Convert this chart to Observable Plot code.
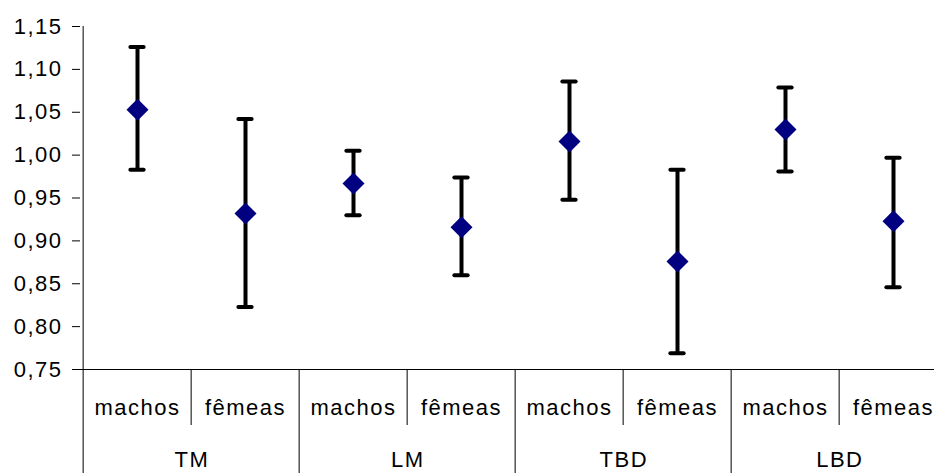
<!DOCTYPE html>
<html>
<head>
<meta charset="utf-8">
<script src="https://cdn.jsdelivr.net/npm/d3@7"></script>
<script src="https://cdn.jsdelivr.net/npm/@observablehq/plot@0.6"></script>
<style>
  html, body { margin: 0; padding: 0; background: #fff; overflow: hidden; }
  #chart { width: 934px; height: 473px; overflow: hidden; }
</style>
</head>
<body>
<div id="chart"></div>
<script>
// Measurements by group (TM, LM, TBD, LBD) and sex (machos, fêmeas)
const groups = ["TM", "LM", "TBD", "LBD"];
const sexes = ["machos", "fêmeas"];
const means = [1.053, 0.932, 0.967, 0.916, 1.016, 0.876, 1.030, 0.923];
const upper = [1.126, 1.042, 1.005, 0.974, 1.086, 0.983, 1.079, 0.997];
const lower = [0.983, 0.823, 0.930, 0.860, 0.948, 0.769, 0.981, 0.846];
const yTicks = [0.75, 0.80, 0.85, 0.90, 0.95, 1.00, 1.05, 1.10, 1.15];

// One row per group × sex
const rows = [];
groups.forEach((g, gi) => sexes.forEach((s, si) => {
  const i = gi * sexes.length + si;
  rows.push({key: g + "|" + s, group: g, sex: s, mean: means[i], hi: upper[i], lo: lower[i]});
}));
const keys = rows.map(d => d.key);

// Layout
const W = 934, H = 473;
const mTop = 26, mBottom = 104, mLeft = 80;
const xEnd = 949.6; // last group runs slightly past the right edge
const bw = (xEnd - mLeft) / keys.length;
const frameH = H - mTop - mBottom;

const chart = Plot.plot({
  width: W,
  height: H,
  marginTop: mTop,
  marginBottom: mBottom,
  marginLeft: mLeft,
  marginRight: 0,
  style: {
    fontFamily: "'Liberation Sans', Arial, sans-serif",
    fontSize: "22px",
    letterSpacing: "1.5px",
    color: "#000",
    background: "#fff"
  },
  x: {type: "band", domain: keys, range: [mLeft, xEnd], padding: 0, axis: null},
  y: {
    domain: [yTicks[0], yTicks[yTicks.length - 1]],
    ticks: yTicks,
    tickSize: 8,
    tickPadding: 10,
    tickFormat: d => d.toFixed(2).replace(".", ","),
    label: null
  },
  marks: [
    // horizontal category axis line
    Plot.ruleY([yTicks[0]], {stroke: "#000", strokeWidth: 1}),
    // vertical value axis line, continuing down through the category rows
    Plot.ruleX([keys[0]], {x: d => d, dx: -bw / 2, stroke: "#000", strokeWidth: 1, insetBottom: -mBottom}),
    // separators between groups
    Plot.ruleX(rows.filter(d => d.sex === sexes[0] && d.group !== groups[0]), {
      x: "key", dx: -bw / 2, stroke: "#000", strokeWidth: 1, insetTop: frameH, insetBottom: -mBottom
    }),
    // separators between sexes within a group
    Plot.ruleX(rows.filter(d => d.sex === sexes[1]), {
      x: "key", dx: -bw / 2, stroke: "#000", strokeWidth: 1, insetTop: frameH, insetBottom: -56
    }),
    // sex labels
    Plot.text(rows, {x: "key", text: "sex", frameAnchor: "bottom", dy: 45, fontSize: 22}),
    // group labels
    Plot.text(rows.filter(d => d.sex === sexes[0]), {
      x: "key", text: "group", frameAnchor: "bottom", dx: bw / 2, dy: 97, fontSize: 22
    }),
    // error bars
    Plot.ruleX(rows, {x: "key", y1: "lo", y2: "hi", stroke: "#000", strokeWidth: 4}),
    Plot.tickY(rows, {x: "key", y: "hi", stroke: "#000", strokeWidth: 4, strokeLinecap: "round",
      insetLeft: (bw - 14) / 2, insetRight: (bw - 14) / 2}),
    Plot.tickY(rows, {x: "key", y: "lo", stroke: "#000", strokeWidth: 4, strokeLinecap: "round",
      insetLeft: (bw - 14) / 2, insetRight: (bw - 14) / 2}),
    // means
    Plot.dot(rows, {x: "key", y: "mean", symbol: "diamond2", r: 9.9, fill: "#000080", stroke: "none"})
  ]
});

document.getElementById("chart").appendChild(chart);
</script>
</body>
</html>
